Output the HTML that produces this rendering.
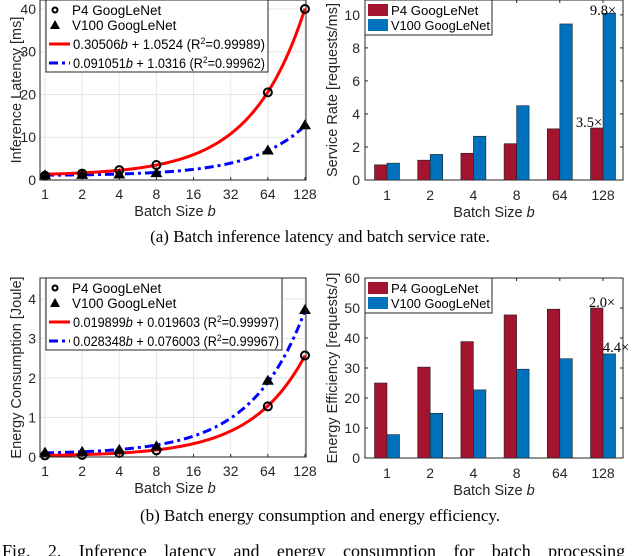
<!DOCTYPE html>
<html><head><meta charset="utf-8"><style>
html,body{margin:0;padding:0;background:#fff;width:640px;height:556px;overflow:hidden}
svg text{font-family:"Liberation Sans",sans-serif}
.tk{font-size:14px;fill:#262626}
.ser{font-family:"Liberation Serif",serif !important}
</style></head><body>
<svg id="fig" width="640" height="556" xmlns="http://www.w3.org/2000/svg">
<text class="ser" x="320" y="242" font-size="17" text-anchor="middle" fill="#000">(a) Batch inference latency and batch service rate.</text>
<text class="ser" x="320" y="521" font-size="17" text-anchor="middle" fill="#000">(b) Batch energy consumption and energy efficiency.</text>
<text id="figcap" class="ser" x="2" y="557" font-size="18" fill="#000">Fig. 2.  Inference latency and energy consumption for batch processing</text>
</svg>
<script>
// ---- data ----
const batchLine = [1, 2, 4, 8, 64, 128];
const latencyP4 = [1.0, 1.5, 2.3, 3.5, 20.5, 40.0];
const latencyV100 = [1.1, 1.2, 1.3, 1.6, 6.9, 12.8];
const latencyFitP4 = [0.30506, 1.0524];
const latencyFitV100 = [0.091051, 1.0316];
const energyP4 = [0.04, 0.05, 0.1, 0.17, 1.28, 2.57];
const energyV100 = [0.11, 0.13, 0.18, 0.27, 1.93, 3.72];
const energyFitP4 = [0.019899, 0.019603];
const energyFitV100 = [0.028348, 0.076003];
const barCategories = ["1", "2", "4", "8", "64", "128"];
const rateP4 = [0.92, 1.2, 1.62, 2.2, 3.1, 3.15];
const rateV100 = [1.02, 1.55, 2.65, 4.5, 9.45, 10.1];
const effP4 = [25, 30.3, 38.8, 47.7, 49.6, 50];
const effV100 = [7.8, 14.9, 22.7, 29.6, 33.1, 34.7];
const lineXTicks = [1, 2, 4, 8, 16, 32, 64, 128];
const latencyYTicks = [0, 10, 20, 30, 40];
const energyYTicks = [0, 1, 2, 3, 4];
const rateYTicks = [0, 2, 4, 6, 8, 10];
const effYTicks = [0, 10, 20, 30, 40, 50, 60];

const svg = document.getElementById('fig');
const NS = 'http://www.w3.org/2000/svg';
function mk(tag, attrs, parent) {
  const e = document.createElementNS(NS, tag);
  for (const k in attrs) e.setAttribute(k, attrs[k]);
  (parent || svg).appendChild(e);
  return e;
}
function txt(s, attrs, parent) { const t = mk('text', attrs, parent); t.textContent = s; return t; }
function fitText(t, maxW) {
  const w = t.getComputedTextLength();
  if (w > maxW) { t.setAttribute('textLength', maxW); t.setAttribute('lengthAdjust', 'spacingAndGlyphs'); }
}

function lineChart(o) {
  const g = mk('g', {});
  
  
  const L = 40, R = 306, T = o.top, B = o.bottom;
  const X = b => 45 + Math.log2(b) * 37.14;
  const Y = v => B - (v / o.ymax) * (B - T);
  mk('rect', {x: L, y: T, width: R - L, height: B - T, fill: '#fff'}, g);
  lineXTicks.forEach(b => {
    const gl = mk('line', {x1: X(b), x2: X(b), y1: T, y2: B, stroke: '#e6e6e6', 'stroke-width': 1}, g);
    
    
    mk('line', {x1: X(b), x2: X(b), y1: B, y2: B - 3, stroke: '#262626'}, g);
    const t = txt(String(b), {x: X(b), y: B + 19, 'text-anchor': 'middle', class: 'tk'}, g);
    
    
  });
  o.yticks.forEach(v => {
    const gl = mk('line', {x1: L, x2: R, y1: Y(v), y2: Y(v), stroke: '#e6e6e6'}, g);
    
    
    const t = txt(String(v), {x: L - 4, y: Y(v) + 5, 'text-anchor': 'end', class: 'tk'}, g);
    
    
  });
  function curve(fit, color, dash, name) {
    let d = '';
    for (let i = 0; i <= 140; i++) {
      const b = Math.pow(2, i * 7 / 140);
      d += (i ? 'L' : 'M') + X(b).toFixed(2) + ',' + Y(fit[0] * b + fit[1]).toFixed(2);
    }
    const p = mk('path', {d, fill: 'none', stroke: color, 'stroke-width': 3, 'stroke-dasharray': dash}, g);
    
    
  }
  curve(o.fitV, '#0000ff', '9,4,3,4', 'fit-line-v100');
  curve(o.fitP, '#ff0000', 'none', 'fit-line-p4');
  batchLine.forEach((b, i) => {
    const c = mk('circle', {cx: X(b), cy: Y(o.p4[i]), r: 4, fill: 'none', stroke: '#000', 'stroke-width': 2}, g);
    
    
    const x = X(b), y = Y(o.v100[i]);
    const tr = mk('path', {d: `M${x},${y - 6}L${x + 6},${y + 4}L${x - 6},${y + 4}Z`, fill: '#000'}, g);
    
    
  });
  mk('rect', {x: L, y: T, width: R - L, height: B - T, fill: 'none', stroke: '#262626', 'stroke-width': 1}, g);
  const lg = mk('g', {}, g);
  
  
  const lt = o.legTop;
  mk('rect', {x: 46, y: lt, width: o.legW, height: 72, fill: '#fff', stroke: '#262626'}, lg);
  mk('circle', {cx: 55, cy: lt + 10, r: 2.5, fill: 'none', stroke: '#000', 'stroke-width': 2}, lg);
  txt('P4 GoogLeNet', {x: 72, y: lt + 15, 'font-size': 13.5, fill: '#000'}, lg);
  mk('path', {d: `M55,${lt + 20}L60,${lt + 29}L50,${lt + 29}Z`, fill: '#000'}, lg);
  txt('V100 GoogLeNet', {x: 72, y: lt + 30, 'font-size': 13.5, fill: '#000'}, lg);
  mk('line', {x1: 49, x2: 70, y1: lt + 44, y2: lt + 44, stroke: '#ff0000', 'stroke-width': 3}, lg);
  mk('line', {x1: 49, x2: 70, y1: lt + 63, y2: lt + 63, stroke: '#0000ff', 'stroke-width': 3, 'stroke-dasharray': '9,4,3,4'}, lg);
  const e1 = txt('', {x: 73, y: lt + 49, 'font-size': 13.5, fill: '#000'}, lg);
  e1.innerHTML = o.eq1;
  fitText(e1, o.legW - 30);
  const e2 = txt('', {x: 73, y: lt + 68, 'font-size': 13.5, fill: '#000'}, lg);
  e2.innerHTML = o.eq2;
  fitText(e2, o.legW - 30);
  const xl = txt('', {x: 175, y: B + 36, 'text-anchor': 'middle', 'font-size': 14.5, fill: '#262626'}, g);
  xl.innerHTML = 'Batch Size <tspan font-style="italic">b</tspan>';
  
  
  const yl = txt(o.ylabel, {x: 0, y: 0, transform: `translate(21,${(T + B) / 2}) rotate(-90)`, 'text-anchor': 'middle', 'font-size': 14.5, fill: '#262626'}, g);
  
  
}

function barChart(o) {
  const g = mk('g', {});
  
  
  const L = 365, R = 623, T = o.top, B = o.bottom;
  const Xc = i => 387 + i * 43.2;
  const Y = v => B - (v / o.ymax) * (B - T);
  mk('rect', {x: L, y: T, width: R - L, height: B - T, fill: '#fff', stroke: '#262626'}, g);
  o.yticks.forEach(v => {
    mk('line', {x1: L, x2: L + 3, y1: Y(v), y2: Y(v), stroke: '#262626'}, g);
    mk('line', {x1: R, x2: R - 3, y1: Y(v), y2: Y(v), stroke: '#262626'}, g);
    const t = txt(String(v), {x: L - 5, y: Y(v) + 5, 'text-anchor': 'end', class: 'tk'}, g);
    
    
  });
  barCategories.forEach((c, i) => {
    mk('line', {x1: Xc(i), x2: Xc(i), y1: B, y2: B - 3, stroke: '#262626'}, g);
    mk('line', {x1: Xc(i), x2: Xc(i), y1: T, y2: T + 3, stroke: '#262626'}, g);
    const t = txt(c, {x: Xc(i), y: B + 20, 'text-anchor': 'middle', class: 'tk'}, g);
    
    
    const b1 = mk('rect', {x: Xc(i) - 12.5, y: Y(o.p4[i]), width: 12.5, height: B - Y(o.p4[i]), fill: '#a2142f', stroke: '#222', 'stroke-width': 0.6}, g);
    
    
    const b2 = mk('rect', {x: Xc(i), y: Y(o.v100[i]), width: 12.5, height: B - Y(o.v100[i]), fill: '#0072bd', stroke: '#222', 'stroke-width': 0.6}, g);
    
    
  });
  const lg = mk('g', {}, g);
  
  
  mk('rect', {x: 365, y: T, width: 127, height: 35, fill: '#fff', stroke: '#262626'}, lg);
  mk('rect', {x: 368, y: T + 4, width: 20, height: 12, fill: '#a2142f'}, lg);
  mk('rect', {x: 368, y: T + 19, width: 20, height: 12, fill: '#0072bd'}, lg);
  txt('P4 GoogLeNet', {x: 391, y: T + 15, 'font-size': 13.2, fill: '#000'}, lg);
  const v = txt('V100 GoogLeNet', {x: 391, y: T + 30, 'font-size': 13.2, fill: '#000'}, lg);
  fitText(v, 99);
  o.notes.forEach(n => {
    const t = txt(n[0], {x: n[1], y: n[2], 'text-anchor': 'middle', 'font-size': 14.5, class: 'ser', fill: '#000'}, g);
    
    
  });
  const xl = txt('', {x: 494, y: B + 37, 'text-anchor': 'middle', 'font-size': 14.5, fill: '#262626'}, g);
  xl.innerHTML = 'Batch Size <tspan font-style="italic">b</tspan>';
  
  
  const yl = txt(o.ylabel, {x: 0, y: 0, transform: `translate(337,${(T + B) / 2}) rotate(-90)`, 'text-anchor': 'middle', 'font-size': 14.5, fill: '#262626'}, g);
  
  
}

lineChart({name: 'latency-chart', top: 0, bottom: 180, ymax: 42.1, yticks: latencyYTicks, p4: latencyP4, v100: latencyV100,
  fitP: latencyFitP4, fitV: latencyFitV100, legTop: 0, legW: 222, ylabel: 'Inference Latency [ms]',
  eq1: '0.30506<tspan font-style="italic">b</tspan> + 1.0524 (R<tspan dy="-5" font-size="9">2</tspan><tspan dy="5">=0.99989)</tspan>',
  eq2: '0.091051<tspan font-style="italic">b</tspan> + 1.0316 (R<tspan dy="-5" font-size="9">2</tspan><tspan dy="5">=0.99962)</tspan>'});
lineChart({name: 'energy-chart', top: 278, bottom: 457, ymax: 4.53, yticks: energyYTicks, p4: energyP4, v100: energyV100,
  fitP: energyFitP4, fitV: energyFitV100, legTop: 278, legW: 236, ylabel: 'Energy Consumption [Joule]',
  eq1: '0.019899<tspan font-style="italic">b</tspan> + 0.019603 (R<tspan dy="-5" font-size="9">2</tspan><tspan dy="5">=0.99997)</tspan>',
  eq2: '0.028348<tspan font-style="italic">b</tspan> + 0.076003 (R<tspan dy="-5" font-size="9">2</tspan><tspan dy="5">=0.99967)</tspan>'});
barChart({name: 'service-rate-chart', top: 0, bottom: 180, ymax: 10.9, yticks: rateYTicks, p4: rateP4, v100: rateV100,
  ylabel: 'Service Rate [requests/ms]', notes: [['9.8×', 603, 15], ['3.5×', 589, 127]]});
barChart({name: 'energy-efficiency-chart', top: 278, bottom: 458, ymax: 60, yticks: effYTicks, p4: effP4, v100: effV100,
  ylabel: 'Energy Efficiency [requests/J]', notes: [['2.0×', 602, 307], ['4.4×', 616, 352]]});

const fc = document.getElementById('figcap');
const w = fc.getComputedTextLength();
const spaces = (fc.textContent.match(/ /g) || []).length;
if (w < 636 && spaces) fc.setAttribute('word-spacing', ((636 - w) / spaces).toFixed(2));
</script>
</body></html>
